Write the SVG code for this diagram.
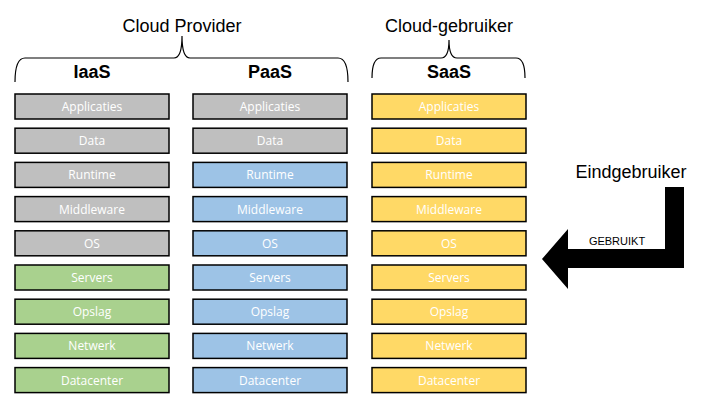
<svg xmlns="http://www.w3.org/2000/svg" width="720" height="405" viewBox="0 0 720 405">
<style>
.box{stroke:#000;stroke-width:1.5}
.g{fill:#bfbfbf}.gr{fill:#a9d18e}.b{fill:#9dc3e6}.y{fill:#ffd966}
.lbl{font-family:"Open Sans","Liberation Sans",sans-serif;font-size:12px;fill:#fff;text-anchor:middle}
.hd{font-family:"Liberation Sans",Arial,sans-serif;font-size:18px;font-weight:bold;fill:#000;text-anchor:middle}
.tt{font-family:"Liberation Sans",Arial,sans-serif;font-size:18px;fill:#000;text-anchor:middle}
.brace{fill:none;stroke:#000;stroke-width:1.2}
</style>
<rect width="720" height="405" fill="#fff"/>
<g id="headers">
<text class="tt" x="182" y="32">Cloud Provider</text>
<text class="tt" x="449" y="32">Cloud-gebruiker</text>
<path class="brace" d="M15,82 Q15,58 25,58 L174,58 Q182,58 182,36 Q182,58 190,58 L338,58 Q348,58 348,82"/>
<path class="brace" d="M372,78 Q372,58 381,58 L441,58 Q449,58 449,40 Q449,58 457,58 L516,58 Q525,58 525,78"/>
<text class="hd" x="92" y="78">IaaS</text>
<text class="hd" x="270" y="78">PaaS</text>
<text class="hd" x="449" y="78">SaaS</text>
</g>
<g id="iaas">
<g id="iaas-applicaties"><rect class="box g" x="15" y="94" width="154" height="25"/><text class="lbl" x="92" y="111">Applicaties</text></g>
<g id="iaas-data"><rect class="box g" x="15" y="128.2" width="154" height="25"/><text class="lbl" x="92" y="145.2">Data</text></g>
<g id="iaas-runtime"><rect class="box g" x="15" y="162.4" width="154" height="25"/><text class="lbl" x="92" y="179.4">Runtime</text></g>
<g id="iaas-middleware"><rect class="box g" x="15" y="196.6" width="154" height="25"/><text class="lbl" x="92" y="213.6">Middleware</text></g>
<g id="iaas-os"><rect class="box g" x="15" y="230.8" width="154" height="25"/><text class="lbl" x="92" y="247.8">OS</text></g>
<g id="iaas-servers"><rect class="box gr" x="15" y="265" width="154" height="25"/><text class="lbl" x="92" y="282">Servers</text></g>
<g id="iaas-opslag"><rect class="box gr" x="15" y="299.2" width="154" height="25"/><text class="lbl" x="92" y="316.2">Opslag</text></g>
<g id="iaas-netwerk"><rect class="box gr" x="15" y="333.4" width="154" height="25"/><text class="lbl" x="92" y="350.4">Netwerk</text></g>
<g id="iaas-datacenter"><rect class="box gr" x="15" y="367.6" width="154" height="25"/><text class="lbl" x="92" y="384.6">Datacenter</text></g>
</g>
<g id="paas">
<g id="paas-applicaties"><rect class="box g" x="193" y="94" width="154" height="25"/><text class="lbl" x="270" y="111">Applicaties</text></g>
<g id="paas-data"><rect class="box g" x="193" y="128.2" width="154" height="25"/><text class="lbl" x="270" y="145.2">Data</text></g>
<g id="paas-runtime"><rect class="box b" x="193" y="162.4" width="154" height="25"/><text class="lbl" x="270" y="179.4">Runtime</text></g>
<g id="paas-middleware"><rect class="box b" x="193" y="196.6" width="154" height="25"/><text class="lbl" x="270" y="213.6">Middleware</text></g>
<g id="paas-os"><rect class="box b" x="193" y="230.8" width="154" height="25"/><text class="lbl" x="270" y="247.8">OS</text></g>
<g id="paas-servers"><rect class="box b" x="193" y="265" width="154" height="25"/><text class="lbl" x="270" y="282">Servers</text></g>
<g id="paas-opslag"><rect class="box b" x="193" y="299.2" width="154" height="25"/><text class="lbl" x="270" y="316.2">Opslag</text></g>
<g id="paas-netwerk"><rect class="box b" x="193" y="333.4" width="154" height="25"/><text class="lbl" x="270" y="350.4">Netwerk</text></g>
<g id="paas-datacenter"><rect class="box b" x="193" y="367.6" width="154" height="25"/><text class="lbl" x="270" y="384.6">Datacenter</text></g>
</g>
<g id="saas">
<g id="saas-applicaties"><rect class="box y" x="372" y="94" width="154" height="25"/><text class="lbl" x="449" y="111">Applicaties</text></g>
<g id="saas-data"><rect class="box y" x="372" y="128.2" width="154" height="25"/><text class="lbl" x="449" y="145.2">Data</text></g>
<g id="saas-runtime"><rect class="box y" x="372" y="162.4" width="154" height="25"/><text class="lbl" x="449" y="179.4">Runtime</text></g>
<g id="saas-middleware"><rect class="box y" x="372" y="196.6" width="154" height="25"/><text class="lbl" x="449" y="213.6">Middleware</text></g>
<g id="saas-os"><rect class="box y" x="372" y="230.8" width="154" height="25"/><text class="lbl" x="449" y="247.8">OS</text></g>
<g id="saas-servers"><rect class="box y" x="372" y="265" width="154" height="25"/><text class="lbl" x="449" y="282">Servers</text></g>
<g id="saas-opslag"><rect class="box y" x="372" y="299.2" width="154" height="25"/><text class="lbl" x="449" y="316.2">Opslag</text></g>
<g id="saas-netwerk"><rect class="box y" x="372" y="333.4" width="154" height="25"/><text class="lbl" x="449" y="350.4">Netwerk</text></g>
<g id="saas-datacenter"><rect class="box y" x="372" y="367.6" width="154" height="25"/><text class="lbl" x="449" y="384.6">Datacenter</text></g>
</g>
<g id="eindgebruiker">
<text class="tt" x="631" y="178">Eindgebruiker</text>
</g>
<g id="connectors">
<polygon points="542,259 568,229 568,249 665,249 665,187 684,187 684,268 568,268 568,289" fill="#000"/>
<text x="617" y="245" font-family="'Liberation Sans',Arial,sans-serif" font-size="11px" fill="#000" text-anchor="middle">GEBRUIKT</text>
</g>
</svg>
